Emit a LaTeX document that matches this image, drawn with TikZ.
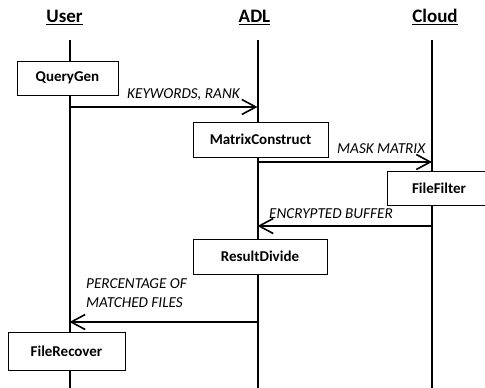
\documentclass[tikz,border=0pt]{standalone}
\usepackage{fontspec}
\setmainfont{Carlito}
\usetikzlibrary{arrows.meta}
\begin{document}
\begin{tikzpicture}[x=1pt,y=-1pt,
  box/.style={draw,line width=0.9pt,fill=white,inner sep=0pt,font=\bfseries\fontsize{15}{17}\selectfont},
  life/.style={line width=2pt},
  msg/.style={line width=1.9pt,-{Straight Barb[length=14pt,width=15pt,line width=1.6pt]}},
  lbl/.style={font=\itshape\fontsize{15.2}{17}\selectfont,inner sep=0pt,anchor=base west},
  head/.style={font=\bfseries\fontsize{19}{22}\selectfont,inner sep=0pt,anchor=base}]
\clip (0,0) rectangle (485,388);
\useasboundingbox (0,0) rectangle (485,388);
% headers
\node[head] (hu) at (64.5,23) {\underline{User}};
\node[head] (ha) at (254.5,23) {\underline{ADL}};
\node[head] (hc) at (435,23) {\underline{Cloud}};
% lifelines
\coordinate (ut) at (69.5,40); \coordinate (ub) at (69.5,388);
\coordinate (at) at (257.5,40); \coordinate (ab) at (257.5,388);
\coordinate (ct) at (432,40); \coordinate (cb) at (432,388);
\draw[life] (ut) -- (ub);
\draw[life] (at) -- (ab);
\draw[life] (ct) -- (cb);
% boxes
\node[box,minimum width=101pt,minimum height=34pt] (qg) at (67.5,78) {QueryGen};
\node[box,minimum width=135pt,minimum height=35pt] (mc) at (260.5,139.5) {MatrixConstruct};
\node[box,minimum width=104pt,minimum height=34pt] (ff) at (439,188) {FileFilter};
\node[box,minimum width=134pt,minimum height=35pt] (rd) at (260,256.5) {ResultDivide};
\node[box,minimum width=117pt,minimum height=38pt] (fr) at (66.5,351) {FileRecover};
% messages
\coordinate (m1s) at (69.5,107); \coordinate (m1e) at (257.5,107);
\coordinate (m2s) at (257.5,162); \coordinate (m2e) at (432,162);
\coordinate (m3s) at (432,226); \coordinate (m3e) at (257.5,226);
\coordinate (m4s) at (257.5,322); \coordinate (m4e) at (69.5,322);
\draw[msg] (m1s) -- (m1e);
\draw[msg] (m2s) -- (m2e);
\draw[msg] (m3s) -- (m3e);
\draw[msg] (m4s) -- (m4e);
% labels
\node[lbl] (l1) at (127,98) {KEYWORDS, RANK};
\node[lbl] (l2) at (337,153) {MASK MATRIX};
\node[lbl] (l3) at (269,218) {ENCRYPTED BUFFER};
\node[lbl] (l4a) at (86,288) {PERCENTAGE OF};
\node[lbl] (l4b) at (86,307) {MATCHED FILES};
\end{tikzpicture}
\end{document}
